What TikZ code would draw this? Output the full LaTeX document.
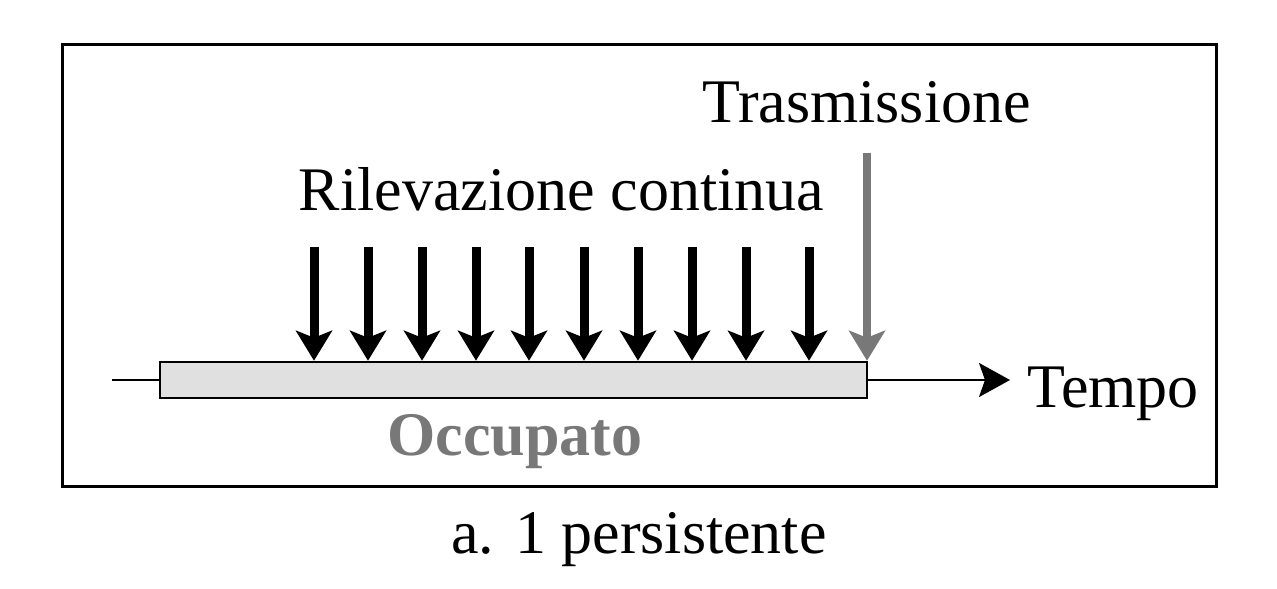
\documentclass[tikz,border=0pt]{standalone}
\usepackage{fontspec}
\setmainfont{Liberation Serif}
\usetikzlibrary{arrows.meta}
\definecolor{tgray}{RGB}{120,120,120}
\definecolor{barfill}{RGB}{224,224,224}
\tikzset{
  lbl/.style={inner sep=0pt, anchor=base, font=\fontsize{31pt}{36pt}\selectfont},
  probe/.style={line width=4.5pt, -{Stealth[length=15pt, width=18pt, inset=3.5pt]}},
  tline/.style={line width=1.25pt},
}
\begin{document}
\begin{tikzpicture}[x=0.5pt, y=-0.5pt]
\useasboundingbox (0,0) rectangle (1277,588);
% frame
\draw[line width=1.5pt] (62,45) rectangle (1216,486);
% busy bar
\node (bar) [draw, tline, fill=barfill, rectangle, inner sep=0pt,
  minimum width=353.5pt, minimum height=18pt] at (513.5,380) {};
\coordinate (tstart) at (112,380);
\coordinate (tend) at (1010,380);
\draw[tline] (tstart) -- (bar.west);
\draw[tline, -{Stealth[length=15.5pt, width=17pt, inset=3pt]}] (bar.east) -- (tend);
% labels
\node[lbl] (ril) at (561.5,210) {Rilevazione continua};
\node[lbl] (tras) at (866.5,123) {Trasmissione};
\node[lbl, anchor=base west] (tempo) at (1027,407) {Tempo};
\node[lbl, font=\fontsize{31pt}{36pt}\selectfont\bfseries, text=tgray] (occ) at (515,455) {Occupato};
\node[lbl] (cap) at (639,553) {a. 1 persistente};
% sensing arrows
\foreach \x [count=\i] in {314,368,422,476,529,584,638,692,746,809}{
  \coordinate (s\i) at (\x,247);
  \draw[probe] (s\i) -- (s\i |- bar.north);
}
% transmission arrow
\coordinate (g) at (867,153);
\draw[probe, line width=4pt, draw=tgray, fill=tgray] (g) -- (g |- bar.north);
\end{tikzpicture}
\end{document}
